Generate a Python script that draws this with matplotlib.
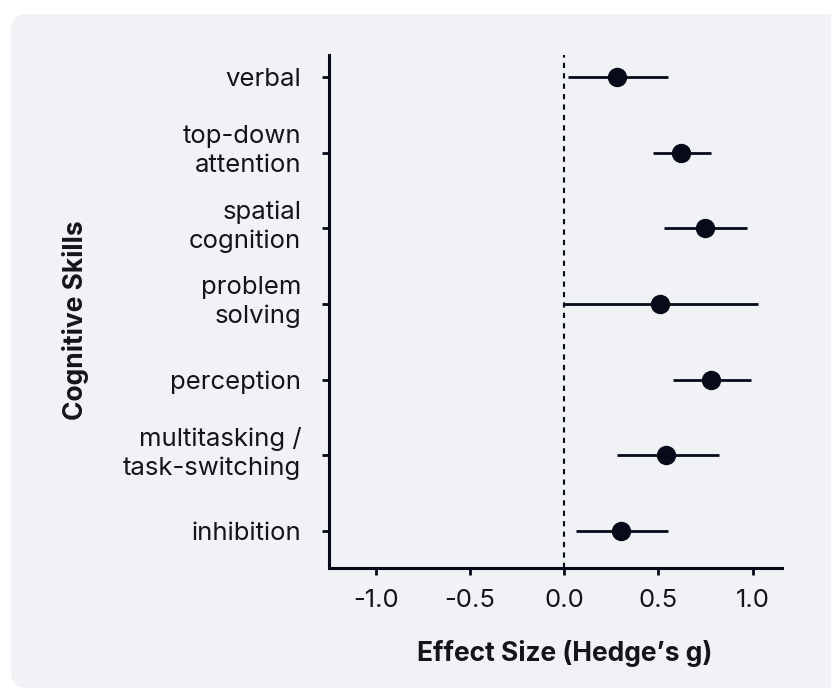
import matplotlib
matplotlib.use('Agg')
import matplotlib.pyplot as plt
from matplotlib.patches import FancyBboxPatch
from matplotlib.transforms import ScaledTranslation

# cognitive skills, top of chart first
skills = ['verbal', 'top-down\nattention', 'spatial\ncognition', 'problem\nsolving',
          'perception', 'multitasking /\ntask-switching', 'inhibition']
effect = [0.28, 0.62, 0.75, 0.51, 0.78, 0.54, 0.30]
ci_low = [0.02, 0.47, 0.53, 0.00, 0.58, 0.28, 0.06]
ci_high = [0.55, 0.78, 0.97, 1.03, 0.99, 0.82, 0.55]

ink = '#070a18'
text_col = '#14151c'
panel = '#f1f2f6'

plt.rcParams['font.family'] = ['Inter', 'DejaVu Sans']

fig = plt.figure(figsize=(8.31, 6.90), dpi=100)
fig.patch.set_facecolor('white')

# rounded light panel behind the chart (pixel coordinates)
bg = FancyBboxPatch((11, 2), 840, 674, boxstyle='round,pad=0,rounding_size=16',
                    transform=None, facecolor=panel, edgecolor='none', zorder=-5)
fig.patches.append(bg)

ax = fig.add_axes([0.3959, 0.1768, 0.5448, 0.7435])
ax.patch.set_alpha(0)

n = len(skills)
ypos = [n - 1 - i for i in range(n)]

# confidence intervals
for y, lo, hi in zip(ypos, ci_low, ci_high):
    ax.plot([lo, hi], [y, y], color=ink, lw=2.0, solid_capstyle='butt', zorder=2)
ax.scatter(effect, ypos, s=195, color=ink, zorder=3, linewidths=0)

ax.axvline(0, color=ink, lw=1.5, ls=(0, (2.5, 2.5)), zorder=1)

ax.set_xlim(-1.25, 1.155)
ax.set_ylim(-0.49, 6.29)
ax.set_xticks([-1.0, -0.5, 0.0, 0.5, 1.0])
ax.set_xticklabels(['-1.0', '-0.5', '0.0', '0.5', '1.0'])
ax.set_yticks(ypos)
ax.set_yticklabels([])

# y labels drawn by hand so the two-line ones can sit a bit above their tick
for y, name in zip(ypos, skills):
    lift = 0.015 if '\n' in name else -0.03
    off = ScaledTranslation(-0.277, lift, fig.dpi_scale_trans)
    ax.text(0, y, name, transform=ax.get_yaxis_transform() + off,
            ha='right', va='center', fontsize=18.5, color=text_col,
            linespacing=1.3, clip_on=False)

for side in ['top', 'right']:
    ax.spines[side].set_visible(False)
for side in ['left', 'bottom']:
    ax.spines[side].set_linewidth(2.2)
    ax.spines[side].set_color(ink)

ax.tick_params(axis='both', colors=ink, labelcolor=text_col, labelsize=18.5,
               width=2, length=5)
ax.tick_params(axis='x', pad=10)

ax.set_xlabel('Effect Size (Hedge\u2019s g)', fontsize=19, fontweight='bold',
              color=text_col, va='center')
ax.set_ylabel('Cognitive Skills', fontsize=19, fontweight='bold',
              color=text_col, va='center')
ax.xaxis.set_label_coords(0.521, -0.166)
ax.yaxis.set_label_coords(-0.559, 0.483)

fig.savefig('out.png', dpi=100)
